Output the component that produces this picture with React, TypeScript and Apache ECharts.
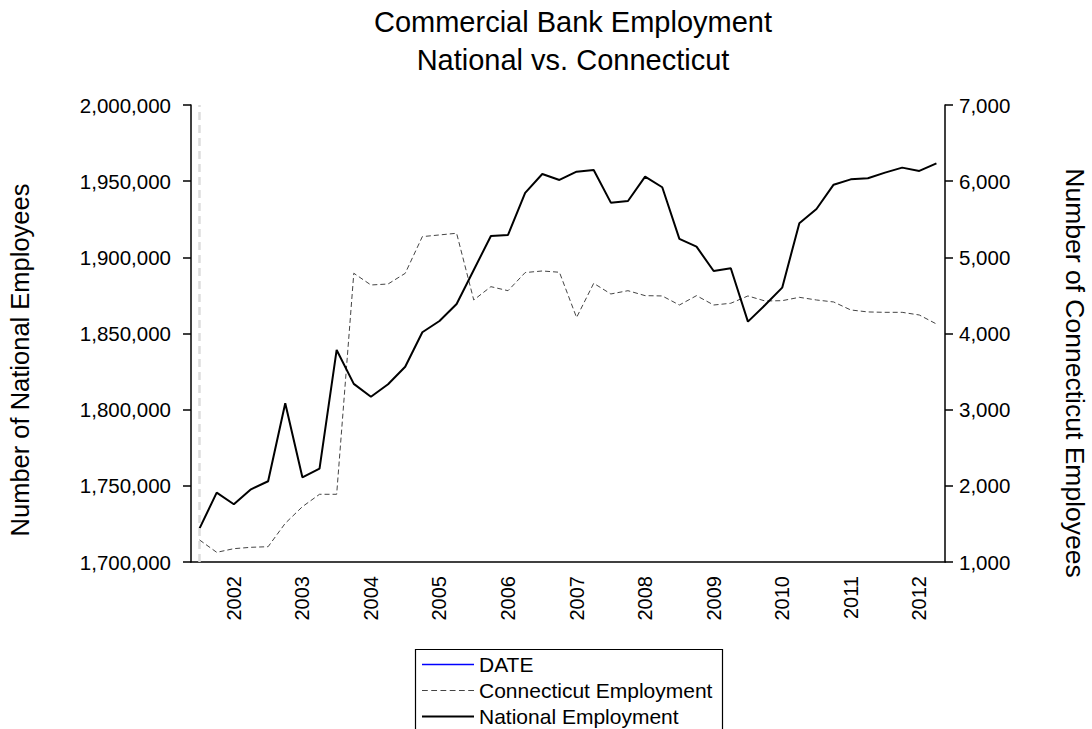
import React, { useEffect, useRef } from 'react';
import * as echarts from 'echarts';

// quarterly, 2001 Q3 .. 2012 Q2
const quarters: string[] = [];
for (let y = 2001; y <= 2012; y++) {
  for (let q = 1; q <= 4; q++) {
    if ((y === 2001 && q < 3) || (y === 2012 && q > 2)) continue;
    quarters.push(`${y}Q${q}`);
  }
}

const nationalEmployment = [
  1722100, 1745500, 1737900, 1747700, 1753000, 1804200, 1755600, 1761300,
  1839200, 1816900, 1808500, 1816700, 1828200, 1850800, 1858200, 1869400,
  1891700, 1914000, 1914700, 1942300, 1954700, 1950800, 1956200, 1957300,
  1935900, 1937000, 1953000, 1946000, 1912100, 1907000, 1891000, 1892800,
  1857800, 1868700, 1880100, 1922400, 1931700, 1947700, 1951200, 1951900,
  1955600, 1958900, 1956700, 1961700,
];

const connecticutEmployment = [
  1289, 1127, 1175, 1193, 1201, 1508, 1726, 1889,
  1889, 4791, 4637, 4650, 4790, 5272, 5294, 5316,
  4440, 4615, 4562, 4800, 4821, 4804, 4210, 4659,
  4519, 4562, 4497, 4493, 4374, 4497, 4374, 4397,
  4493, 4427, 4431, 4475, 4440, 4414, 4309, 4283,
  4278, 4278, 4243, 4125,
];

const FONT = 'Liberation Sans, Arial, sans-serif';
const fmt = (v: number) => v.toLocaleString('en-US');

const App: React.FC = () => {
  const chartRef = useRef<HTMLDivElement>(null);

  useEffect(() => {
    document.body.style.margin = '0';
    const chart = echarts.init(chartRef.current!, undefined, { renderer: 'svg' });

    const option = {
      animation: false,
      textStyle: { fontFamily: FONT },
      title: {
        text: 'Commercial Bank Employment\nNational vs. Connecticut',
        left: 568,
        top: -2,
        textAlign: 'center',
        textStyle: { fontSize: 29, lineHeight: 38, fontWeight: 'normal', color: '#000', fontFamily: FONT },
      },
      graphic: [
        {
          type: 'text',
          x: 20,
          y: 360,
          rotation: Math.PI / 2,
          style: {
            text: 'Number of National Employees',
            align: 'center',
            verticalAlign: 'middle',
            fontSize: 25.5,
            fill: '#000',
            fontFamily: FONT,
          },
        },
        {
          type: 'text',
          x: 1075,
          y: 373,
          rotation: -Math.PI / 2,
          style: {
            text: 'Number of Connecticut Employees',
            align: 'center',
            verticalAlign: 'middle',
            fontSize: 26.5,
            fill: '#000',
            fontFamily: FONT,
          },
        },
        {
          type: 'rect',
          shape: { x: 415.5, y: 649.5, width: 307, height: 100 },
          style: { fill: 'none', stroke: '#000', lineWidth: 1.2 },
        },
      ],
      legend: {
        orient: 'vertical',
        left: 422,
        top: 654,
        padding: 0,
        itemGap: 5,
        itemWidth: 52,
        itemHeight: 16,
        textStyle: { fontSize: 21, color: '#000', fontFamily: FONT },
        data: [
          { name: 'DATE', icon: 'path://M0,7L50,7L50,8.5L0,8.5Z' },
          { name: 'Connecticut Employment', icon: 'path://M0,7L5,7L5,8L0,8ZM8,7L13,7L13,8L8,8ZM16,7L21,7L21,8L16,8ZM24,7L29,7L29,8L24,8ZM32,7L37,7L37,8L32,8ZM40,7L45,7L45,8L40,8Z' },
          { name: 'National Employment', icon: 'path://M0,7L50,7L50,8.8L0,8.8Z' },
        ],
      },
      grid: { left: 191, right: 147, top: 105, bottom: 167, containLabel: false },
      xAxis: {
        type: 'category',
        data: quarters,
        boundaryGap: true,
        axisLine: { lineStyle: { color: '#000', width: 1.5 } },
        axisTick: { interval: 0, length: 8, lineStyle: { color: '#000', width: 1.5 } },
        axisLabel: {
          interval: (i: number) => i % 4 === 2,
          rotate: 90,
          margin: 14,
          fontSize: 20,
          color: '#000',
          formatter: (v: string) => v.slice(0, 4),
        },
        splitLine: { show: false },
      },
      yAxis: [
        {
          type: 'value',
          min: 1700000,
          max: 2000000,
          interval: 50000,
          axisLine: { show: true, lineStyle: { color: '#000', width: 1.5 } },
          axisTick: { show: true, length: 8, lineStyle: { color: '#000', width: 1.5 } },
          axisLabel: { fontSize: 20.5, color: '#000', margin: 20, formatter: fmt },
          splitLine: { show: false },
        },
        {
          type: 'value',
          min: 1000,
          max: 7000,
          interval: 1000,
          axisLine: { show: true, lineStyle: { color: '#000', width: 1.5 } },
          axisTick: { show: true, length: 8, lineStyle: { color: '#000', width: 1.5 } },
          axisLabel: { fontSize: 20.5, color: '#000', margin: 14, formatter: fmt },
          splitLine: { show: false },
        },
      ],
      series: [
        {
          name: 'DATE',
          type: 'line',
          data: [],
          color: '#0000ff',
          markLine: {
            symbol: 'none',
            silent: true,
            label: { show: false },
            lineStyle: { color: '#dddddd', type: [8, 5], width: 2.5 },
            data: [{ xAxis: quarters[0] }],
          },
        },
        {
          name: 'Connecticut Employment',
          type: 'line',
          yAxisIndex: 1,
          data: connecticutEmployment,
          showSymbol: false,
          color: '#444',
          lineStyle: { width: 1, type: [5, 3], color: '#444' },
        },
        {
          name: 'National Employment',
          type: 'line',
          data: nationalEmployment,
          showSymbol: false,
          color: '#000',
          lineStyle: { width: 2, color: '#000' },
        },
      ],
    };

    chart.setOption(option);

    return () => {
      chart.dispose();
    };
  }, []);

  return <div ref={chartRef} style={{ width: 1092, height: 729 }} />;
};

export default App;
